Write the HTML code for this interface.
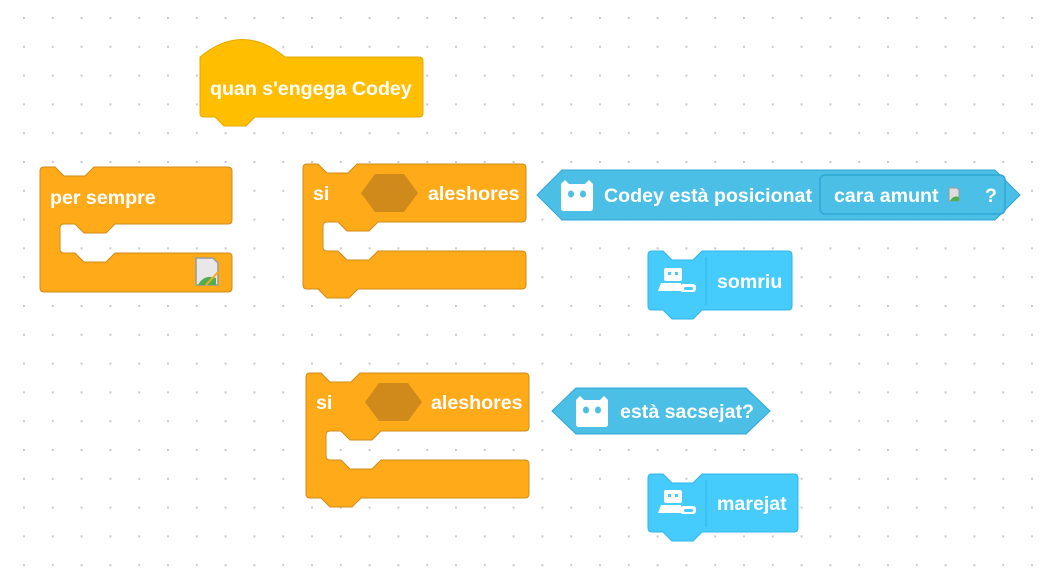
<!DOCTYPE html>
<html><head><meta charset="utf-8"><style>
html,body{margin:0;padding:0;background:#fff;}
svg{display:block;}
text{font-family:"Liberation Sans",sans-serif;font-weight:bold;fill:#fff;}
</style></head><body>
<svg width="1040" height="585" viewBox="0 0 1040 585" xmlns="http://www.w3.org/2000/svg">
<defs>
<pattern id="dots" x="23" y="17" width="28.8" height="28.8" patternUnits="userSpaceOnUse">
<rect x="0" y="0" width="2" height="2" fill="#c8c8c8"/>
</pattern>
<g id="codeyhead">
<path d="M0,4 L4,0 L8,4 H24 L28,0 L32,4 V28 q0,3 -3,3 H3 q-3,0 -3,-3 Z" fill="#fff"/>
<ellipse cx="10" cy="14" rx="3" ry="3.5" fill="#4cbfe6"/>
<ellipse cx="22" cy="14" rx="3" ry="3.5" fill="#4cbfe6"/>
</g>
<g id="robot">
<rect x="6" y="0" width="18" height="13" rx="2" fill="#fff"/>
<rect x="10" y="4" width="3" height="3" fill="#45ccfc"/>
<rect x="17" y="4" width="3" height="3" fill="#45ccfc"/>
<path d="M3,15 H23 V23 H0 Z" fill="#fff"/>
<rect x="22" y="16" width="16" height="8" rx="3" fill="#fff"/>
<rect x="26" y="19" width="9" height="3" rx="1.5" fill="#45ccfc"/>
</g>
</defs>
<rect width="1040" height="585" fill="url(#dots)"/>

<!-- hat -->
<path d="M200,57 Q242,22 285,57 H419 q4,0 4,4 V113 q0,4 -4,4 H255 L246,126 H224 L215,117 H204 q-4,0 -4,-4 Z" fill="#ffbf00" stroke="#e6a800" stroke-width="1"/>
<text x="210" y="95" font-size="19.6">quan s'engega Codey</text>

<!-- forever -->
<path d="M40,171 q0,-4 4,-4 H55 L64,176 H85 L94,167 H228 q4,0 4,4 V220 q0,4 -4,4 H115 L106,233 H84 L75,224 H64 q-4,0 -4,4 V249 q0,4 4,4 H75 L84,262 H106 L115,253 H228 q4,0 4,4 V288 q0,4 -4,4 H44 q-4,0 -4,-4 Z" fill="#ffab19" stroke="#cf8b17" stroke-width="1"/>
<text x="50" y="204" font-size="19.6">per sempre</text>
<g transform="translate(196,258)">
<path d="M0,0 H17 L22,5 V27 H0 Z" fill="#e8e8e8" stroke="#999" stroke-width="1.5"/>
<path d="M2,27 Q8,16 20,20 V27 Z" fill="#4caf50"/>
<line x1="10" y1="27" x2="22" y2="14" stroke="#ffab19" stroke-width="2"/>
</g>

<!-- if 1 -->
<path d="M303,168 q0,-4 4,-4 H318 L327,173 H348 L357,164 H522 q4,0 4,4 V218 q0,4 -4,4 H378 L369,231 H347 L338,222 H327 q-4,0 -4,4 V247 q0,4 4,4 H338 L347,260 H369 L378,251 H522 q4,0 4,4 V285 q0,4 -4,4 H358 L349,298 H327 L318,289 H307 q-4,0 -4,-4 Z" fill="#ffab19" stroke="#cf8b17" stroke-width="1"/>
<text x="313" y="200" font-size="19.6">si</text>
<path d="M361,193 L375,174 H404 L418,193 L404,212 H375 Z" fill="#d08a1b"/>
<text x="428" y="200" font-size="19.6">aleshores</text>

<!-- if 2 -->
<path d="M306,377 q0,-4 4,-4 H321 L330,382 H351 L360,373 H525 q4,0 4,4 V427 q0,4 -4,4 H381 L372,440 H350 L341,431 H330 q-4,0 -4,4 V456 q0,4 4,4 H341 L350,469 H372 L381,460 H525 q4,0 4,4 V494 q0,4 -4,4 H361 L352,507 H330 L321,498 H310 q-4,0 -4,-4 Z" fill="#ffab19" stroke="#cf8b17" stroke-width="1"/>
<text x="316" y="409" font-size="19.6">si</text>
<path d="M365,402 L379,383 H408 L422,402 L408,421 H379 Z" fill="#d08a1b"/>
<text x="431" y="409" font-size="19.6">aleshores</text>

<!-- boolean 1 -->
<path d="M537,195 L562,170 H995 L1020,195 L995,220 H562 Z" fill="#4cbfe6" stroke="#2fa6d4" stroke-width="1"/>
<use href="#codeyhead" x="561" y="180"/>
<text x="604" y="202" font-size="19.6">Codey està posicionat</text>
<rect x="820" y="175" width="185" height="39" rx="5" fill="#4cbfe6" stroke="#2fa6d4" stroke-width="1.5"/>
<text x="834" y="202" font-size="19.6">cara amunt</text>
<g transform="translate(949,188)"><path d="M0,0 H8 L10,2 V13 H0 Z" fill="#ddd" stroke="#999"/><path d="M1,13 Q4,7 10,9 V13Z" fill="#4caf50"/></g>
<text x="985" y="202" font-size="19.6">?</text>

<!-- boolean 2 -->
<path d="M552,411 L576,388 H746 L770,411 L746,434 H576 Z" fill="#4cbfe6" stroke="#2fa6d4" stroke-width="1"/>
<use href="#codeyhead" x="576" y="396"/>
<text x="620" y="418" font-size="19.6">està sacsejat?</text>

<!-- somriu -->
<path d="M648,255 q0,-4 4,-4 H663 L672,260 H693 L702,251 H788 q4,0 4,4 V306 q0,4 -4,4 H702 L693,319 H672 L663,310 H652 q-4,0 -4,-4 Z" fill="#45ccfc" stroke="#2eb6e8" stroke-width="1"/>
<line x1="706" y1="257" x2="706" y2="305" stroke="#2eb6e8" stroke-width="1"/>
<use href="#robot" x="658" y="268"/>
<text x="717" y="288" font-size="19.6">somriu</text>

<!-- marejat -->
<path d="M648,478 q0,-4 4,-4 H663 L672,483 H693 L702,474 H794 q4,0 4,4 V528 q0,4 -4,4 H702 L693,541 H672 L663,532 H652 q-4,0 -4,-4 Z" fill="#45ccfc" stroke="#2eb6e8" stroke-width="1"/>
<line x1="706" y1="480" x2="706" y2="527" stroke="#2eb6e8" stroke-width="1"/>
<use href="#robot" x="658" y="490"/>
<text x="717" y="510" font-size="19.6">marejat</text>
</svg>
</body></html>
